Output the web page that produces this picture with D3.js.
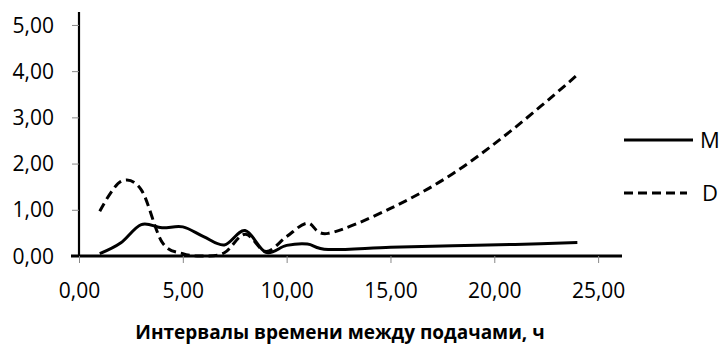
<!DOCTYPE html>
<html lang="ru">
<head>
<meta charset="UTF-8">
<title>M и D</title>
<script src="https://d3js.org/d3.v7.min.js"></script>
<style>
    body { margin: 0; background: #fff; }
    svg { display: block; background: #fff; }
    text { font-family: "Open Sans", "Liberation Sans", sans-serif; fill: #000; }
</style>
</head>
<body>
<script>
    const width = 723;
    const height = 344;

    // intervals, hours
    const hours = [1, 2, 3, 4, 5, 6, 7, 8, 9, 10, 11, 12, 15, 18, 21, 24];
    const seriesM = [0.05, 0.28, 0.68, 0.61, 0.63, 0.42, 0.24, 0.55, 0.08, 0.23, 0.26, 0.14, 0.19, 0.22, 0.25, 0.29];
    const seriesD = [0.97, 1.61, 1.43, 0.30, 0.05, 0.00, 0.07, 0.47, 0.10, 0.42, 0.71, 0.49, 1.03, 1.78, 2.78, 3.92];
    const xTicks = [0, 5, 10, 15, 20, 25];
    const yTicks = [0, 1, 2, 3, 4, 5];
    const seriesNames = ["M", "D"];

    const fmt = d => d3.format(".2f")(d).replace(".", ",");

    const svg = d3.select("body").append("svg")
        .attr("width", width).attr("height", height);

    const x = d3.scaleLinear().domain([0, 26.15]).range([79, 622]);
    const y = d3.scaleLinear().domain([0, 5.28]).range([256, 12]);

    // y axis
    const yAxis = svg.append("g")
        .attr("transform", `translate(${x(0)},0)`)
        .call(d3.axisLeft(y).tickValues(yTicks).tickFormat(fmt).tickSize(7).tickPadding(18));
    yAxis.select(".domain").attr("stroke", "#000").attr("stroke-width", 2.2)
        .attr("d", `M0,${y(5.28)}V${y(0)}`);
    yAxis.selectAll(".tick line").attr("stroke", "#888").attr("stroke-width", 1);
    yAxis.selectAll(".tick text").style("font-size", "21px").attr("dy", "0.34em");

    // x axis
    const xAxis = svg.append("g")
        .attr("transform", `translate(0,${y(0)})`)
        .call(d3.axisBottom(x).tickValues(xTicks).tickFormat(fmt).tickSize(7).tickPadding(20));
    xAxis.select(".domain").attr("stroke", "#000").attr("stroke-width", 3)
        .attr("d", `M${x(0) - 8},0H${x(26.15)}`);
    xAxis.selectAll(".tick line").attr("stroke", "#888").attr("stroke-width", 1);
    xAxis.selectAll(".tick text").style("font-size", "21px");

    svg.append("text")
        .attr("x", 340).attr("y", 339)
        .attr("text-anchor", "middle")
        .style("font-size", "19px").style("font-weight", "bold")
        .text("Интервалы времени между подачами, ч");

    const line = d3.line()
        .x(d => x(d[0]))
        .y(d => y(d[1]))
        .curve(d3.curveCardinal.tension(0));

    const dashes = ["none", "9,5"];
    [seriesM, seriesD].forEach((vals, i) => {
        svg.append("path")
            .datum(hours.map((h, j) => [h, vals[j]]))
            .attr("fill", "none")
            .attr("stroke", "#000")
            .attr("stroke-width", 3)
            .attr("stroke-dasharray", dashes[i])
            .attr("d", line);
    });

    // legend
    const legend = svg.append("g").selectAll("g")
        .data(seriesNames).enter().append("g")
        .attr("transform", (d, i) => `translate(624,${140 + i * 53})`);
    legend.append("line")
        .attr("x1", 0).attr("x2", (d, i) => i ? 63 : 69)
        .attr("stroke", "#000").attr("stroke-width", 3)
        .attr("stroke-dasharray", (d, i) => dashes[i]);
    legend.append("text")
        .attr("x", (d, i) => i ? 78 : 76).attr("dy", "0.36em")
        .style("font-size", "22px")
        .text(d => d);
</script>
</body>
</html>
